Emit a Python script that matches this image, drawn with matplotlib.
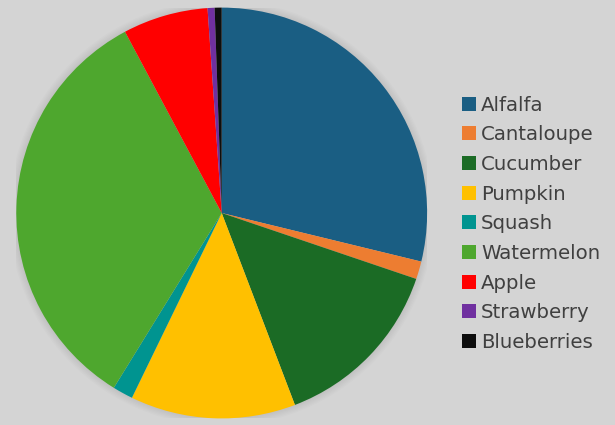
import matplotlib

matplotlib.use("Agg")
import matplotlib.pyplot as plt
from matplotlib.patches import Circle

# slice shares (percent), read clockwise from 12 o'clock
labels = ["Alfalfa", "Cantaloupe", "Cucumber", "Pumpkin", "Squash",
          "Watermelon", "Apple", "Strawberry", "Blueberries"]
values = [28.8, 1.4, 14.0, 13.0, 1.6, 33.4, 6.7, 0.55, 0.55]
colors = ["#1A5E83", "#ED7D31", "#1B6B25", "#FFC000", "#009490",
          "#4EA72E", "#FF0000", "#7030A0", "#0D0D0D"]

BG = "#D4D4D4"

fig = plt.figure(figsize=(6.15, 4.25), dpi=100, facecolor=BG)
ax = fig.add_axes([0.0265, 0.0153, 0.668, 0.967])
ax.set_facecolor(BG)

# soft shadow around the pie
for i in range(6):
    ax.add_patch(Circle((0, 0), 1.0 + 0.006 * (i + 1), color="black",
                        alpha=0.012, lw=0, zorder=0))

wedges, _ = ax.pie(values, colors=colors, startangle=90, counterclock=False,
                   radius=1.0, wedgeprops=dict(linewidth=0))
ax.set_xlim(-1.0, 1.0)
ax.set_ylim(-1.0, 1.0)
ax.set_aspect("equal")
ax.axis("off")

fs = 14.2
fig.legend(wedges, labels, loc="upper left", bbox_to_anchor=(0.751, 0.775),
           frameon=False, fontsize=fs, labelcolor="#404040",
           handlelength=0.71, handleheight=0.71, handletextpad=0.26,
           labelspacing=0.54, borderaxespad=0, borderpad=0)

fig.savefig("out.png", dpi=100, facecolor=BG)
